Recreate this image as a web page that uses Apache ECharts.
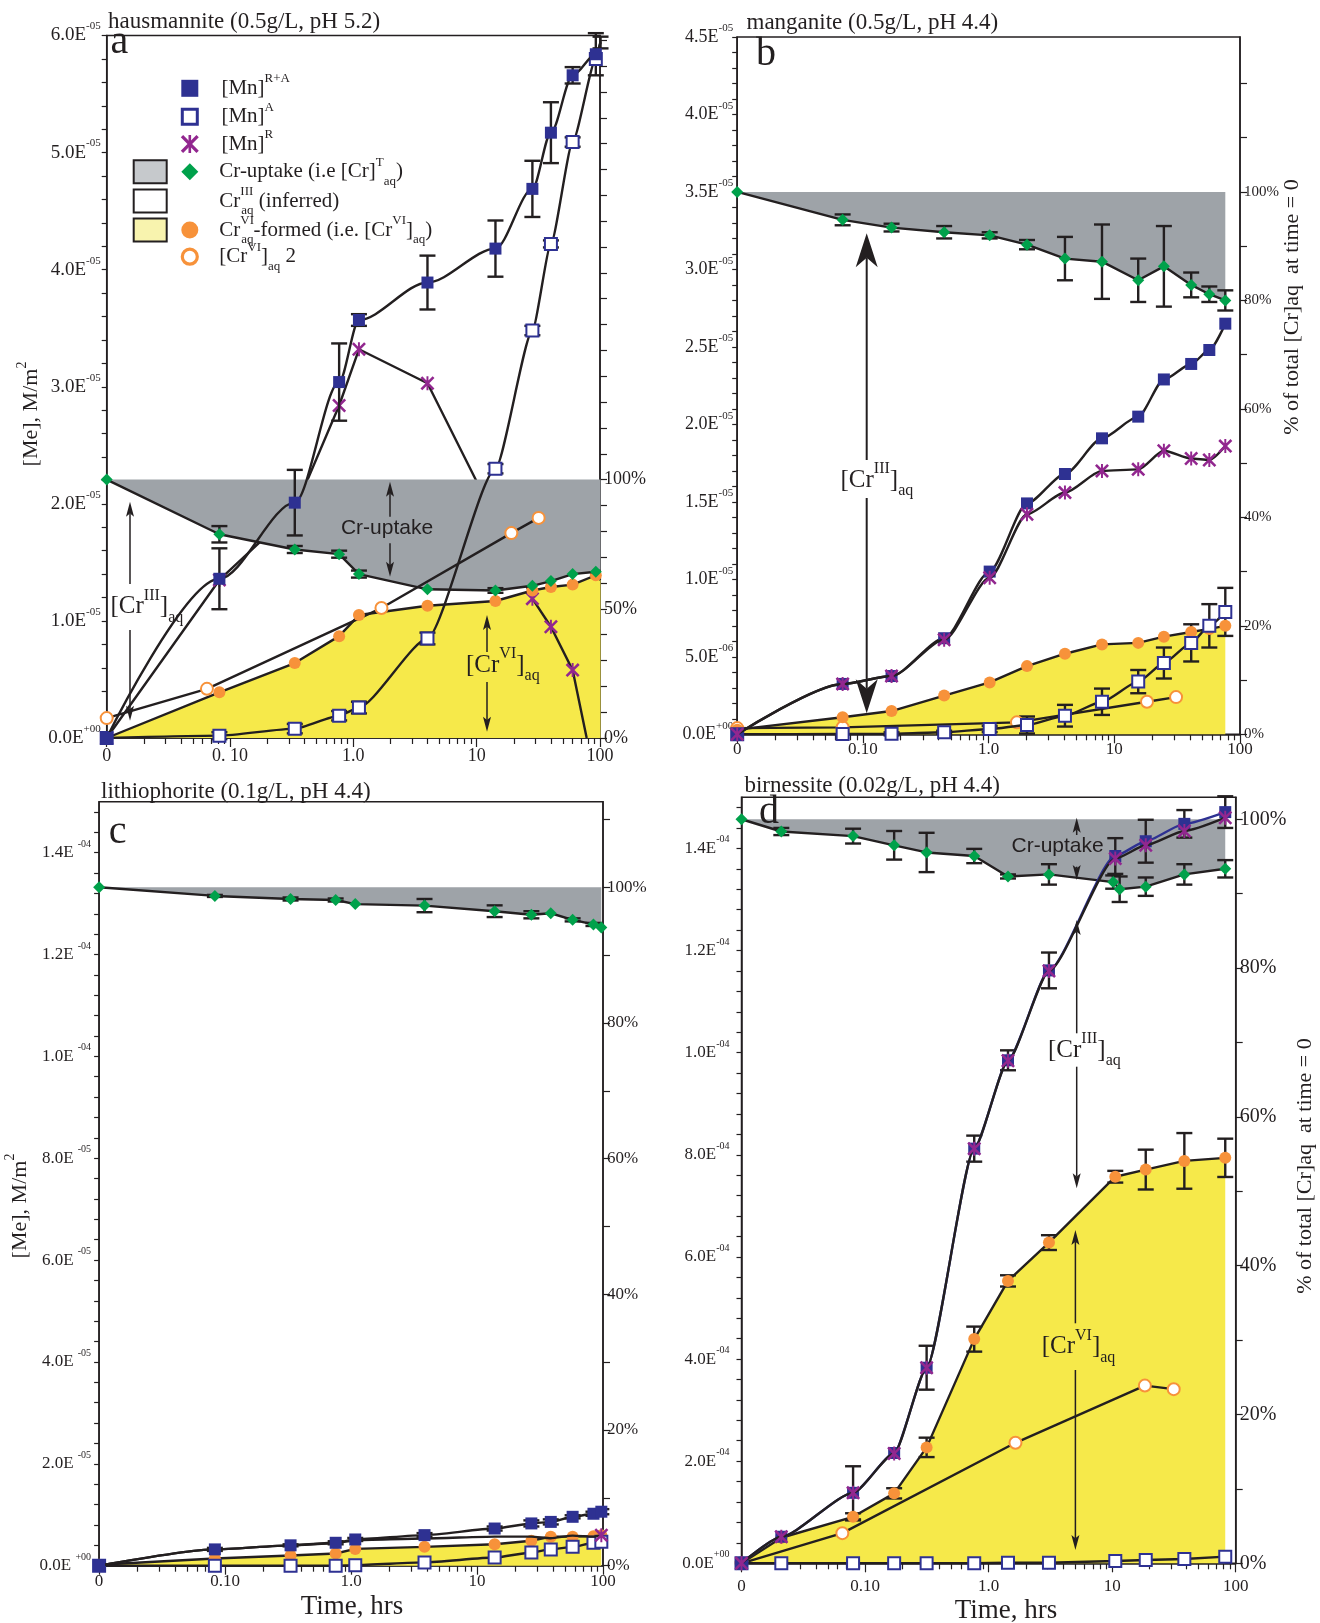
<!DOCTYPE html>
<html>
<head>
<meta charset="utf-8">
<title>Cr and Mn in solution during Cr(III) oxidation by Mn oxides</title>
<script src="https://cdn.jsdelivr.net/npm/echarts@6.0.0/dist/echarts.min.js"></script>
<style>
  html, body { margin: 0; padding: 0; background: #ffffff; }
  #chart { width: 1320px; height: 1623px; }
</style>
</head>
<body>
<div id="chart"></div>
<script>
// Concentrations in units of 1E-05 M/m2, time in hours.

// ---------- a: hausmannite (0.5 g/L, pH 5.2) ----------
const aTime     = [0, 0.082, 0.335, 0.767, 1.11, 3.99, 14.2, 28.3, 40, 60, 92.5, 101];
const aMnRA     = [0, 1.36, 2.01, 3.04, 3.57, 3.89, 4.18, 4.69, 5.17, 5.66, 5.84, 5.94];
const aMnRAErr  = [0, 0.26, 0.28, 0.33, 0.05, 0.23, 0.24, 0.24, 0.26, 0.07, 0.18, 0.05];
const aMnA      = [0, 0.02, 0.08, 0.19, 0.26, 0.85, 2.30, 3.48, 4.22, 5.09, 5.80, 5.95];
const aMnAErr   = [0, 0.03, 0.04, 0.04, 0.05, 0.05, 0.04, 0.04, 0.03, 0.04, 0, 0];
const aMnRTime  = [0, 0.082, 0.335, 0.767, 1.11, 3.99, 14.2, 28.3, 40, 60, 78];
const aMnR      = [0, 1.35, 1.95, 2.84, 3.32, 3.03, 1.87, 1.19, 0.95, 0.58, 0];
const aCrT      = [2.207, 1.74, 1.61, 1.57, 1.40, 1.27, 1.26, 1.30, 1.34, 1.40, 1.42, 1.43];
const aCrTErr   = [0, 0.07, 0.03, 0.03, 0.03, 0, 0.02, 0, 0, 0, 0, 0];
const aCr6      = [0, 0.39, 0.64, 0.87, 1.05, 1.13, 1.17, 1.26, 1.29, 1.31, 1.39, 1.35];
const aCr6bTime = [0, 0.065, 1.69, 19.1, 31.8];
const aCr6b     = [0.17, 0.42, 1.11, 1.75, 1.88];

// ---------- b: manganite (0.5 g/L, pH 4.4) ----------
const bTime     = [0, 0.069, 0.169, 0.443, 1.02, 2.02, 4.05, 7.98, 15.5, 24.8, 40.9, 57, 76.4];
const bCrT      = [3.50, 3.32, 3.27, 3.24, 3.22, 3.16, 3.07, 3.05, 2.93, 3.02, 2.90, 2.84, 2.80];
const bCrTErr   = [0, 0.035, 0.025, 0.04, 0.02, 0.03, 0.14, 0.24, 0.14, 0.26, 0.08, 0.05, 0.065];
const bMnRA     = [0, 0.325, 0.376, 0.62, 1.05, 1.49, 1.68, 1.91, 2.05, 2.29, 2.39, 2.48, 2.65];
const bMnR      = [0, 0.325, 0.376, 0.61, 1.01, 1.42, 1.56, 1.70, 1.71, 1.83, 1.78, 1.77, 1.86];
const bMnA      = [0, 0.002, 0.003, 0.013, 0.034, 0.06, 0.12, 0.21, 0.34, 0.46, 0.59, 0.70, 0.79];
const bMnAErr   = [0, 0, 0.01, 0.01, 0.02, 0.055, 0.07, 0.085, 0.075, 0.10, 0.12, 0.14, 0.155];
const bCr6      = [0.03, 0.11, 0.15, 0.25, 0.335, 0.44, 0.52, 0.58, 0.59, 0.63, 0.66, 0.68, 0.70];
const bCr6bTime = [0, 0.069, 1.68, 18.2, 31];
const bCr6b     = [0.04, 0.045, 0.077, 0.21, 0.24];

// ---------- c: lithiophorite (0.1 g/L, pH 4.4) ----------
const cTime     = [0, 0.083, 0.331, 0.755, 1.08, 3.83, 13.8, 27, 38.5, 57.4, 84, 97];
const cCrT      = [13.32, 13.15, 13.09, 13.07, 12.99, 12.96, 12.85, 12.78, 12.81, 12.68, 12.59, 12.53];
const cCrTErr   = [0, 0.02, 0.03, 0.03, 0, 0.13, 0.115, 0.07, 0, 0.03, 0.03, 0];
const cMnRA     = [0, 0.32, 0.40, 0.45, 0.515, 0.60, 0.73, 0.83, 0.86, 0.96, 1.02, 1.06];
const cMnRAErr  = [0, 0.03, 0.02, 0.03, 0.03, 0.04, 0.04, 0.06, 0.05, 0.03, 0.04, 0.05];
const cMnR      = [0, 0.32, 0.40, 0.44, 0.505, 0.535, 0.57, 0.57, 0.54, 0.59, 0.57, 0.60];
const cMnA      = [0, 0, 0, 0, 0.01, 0.065, 0.16, 0.26, 0.32, 0.37, 0.45, 0.47];
const cCr6      = [0.02, 0.14, 0.20, 0.24, 0.33, 0.37, 0.42, 0.49, 0.57, 0.57, 0.58, 0.60];

// ---------- d: birnessite (0.02 g/L, pH 4.4) ----------
const dTime     = [0, 0.021, 0.080, 0.172, 0.315, 0.765, 1.435, 3.08, 10.6, 18.7, 38.4, 82.3];
const dMnRA     = [0, 0.52, 1.38, 2.16, 3.83, 8.12, 9.85, 11.61, 13.85, 14.14, 14.48, 14.71];
const dMnRAErr  = [0, 0, 0.52, 0, 0.43, 0.255, 0.195, 0.35, 0.35, 0.42, 0.27, 0.31];
const dMnR      = [0, 0.52, 1.38, 2.15, 3.83, 8.12, 9.84, 11.60, 13.80, 14.06, 14.34, 14.60];
const dMnA      = [0, 0, 0, 0, 0, 0, 0.01, 0.01, 0.046, 0.065, 0.085, 0.13];
const dCr6      = [0, 0.50, 0.91, 1.37, 2.27, 4.39, 5.53, 6.28, 7.57, 7.71, 7.88, 7.94];
const dCr6Err   = [0, 0, 0.07, 0.10, 0.19, 0.245, 0.11, 0.145, 0.115, 0.39, 0.545, 0.375];
const dCrTTime  = [0, 0.021, 0.080, 0.172, 0.315, 0.765, 1.435, 3.08, 10.2, 11.5, 18.7, 38.4, 82.3];
const dCrT      = [14.57, 14.33, 14.24, 14.06, 13.92, 13.85, 13.45, 13.49, 13.34, 13.20, 13.25, 13.49, 13.60];
const dCrTErr   = [0, 0.07, 0.145, 0.28, 0.385, 0.14, 0.04, 0.2, 0.13, 0.25, 0.18, 0.2, 0.17];
const dCr6bTime = [0, 0.0655, 1.65, 18.4, 31.5];
const dCr6b     = [0, 0.59, 2.36, 3.48, 3.41];

// ---------- tick labels ----------
const xLabelsA = ['0', '0. 10', '1.0', '10', '100'];
const xLabels  = ['0', '0.10', '1.0', '10', '100'];
const aYTicks  = [0, 1, 2, 3, 4, 5, 6];
const aYLabels = [['0.0E', '+00'], ['1.0E', '-05'], ['2.0E', '-05'], ['3.0E', '-05'], ['4.0E', '-05'], ['5.0E', '-05'], ['6.0E', '-05']];
const bYTicks  = [0, 0.5, 1, 1.5, 2, 2.5, 3, 3.5, 4, 4.5];
const bYLabels = [['0.0E', '+00'], ['5.0E', '-06'], ['1.0E', '-05'], ['1.5E', '-05'], ['2.0E', '-05'], ['2.5E', '-05'], ['3.0E', '-05'], ['3.5E', '-05'], ['4.0E', '-05'], ['4.5E', '-05']];
const cYTicks  = [0, 2, 4, 6, 8, 10, 12, 14];
const cYLabels = [['0.0E ', '+00'], ['2.0E ', '-05'], ['4.0E ', '-05'], ['6.0E ', '-05'], ['8.0E ', '-05'], ['1.0E ', '-04'], ['1.2E ', '-04'], ['1.4E ', '-04']];
const dYTicks  = [0, 2, 4, 6, 8, 10, 12, 14];
const dYLabels = [['0.0E', '+00'], ['2.0E', '-04'], ['4.0E', '-04'], ['6.0E', '-04'], ['8.0E', '-04'], ['1.0E', '-04'], ['1.2E', '-04'], ['1.4E', '-04']];
const pctLabelsA = [0, 50, 100];
const pctLabels  = [0, 20, 40, 60, 80, 100];

// ---------- styling ----------
const SERIF = 'Liberation Serif';
const SANS = 'Liberation Sans';
const INK = '#231F20';
const NAVY = '#2E3192', PURPLE = '#92278F', GREEN = '#00A14B', ORANGE = '#F7923A';
const GRAY_FILL = '#9EA3A8', YELLOW_FILL = '#F6E94A';
const X_MARK = 'M0,1.3L1.3,0L5,3.7L8.7,0L10,1.3L6.3,5L10,8.7L8.7,10L5,6.3L1.3,10L0,8.7L3.7,5Z M4.3,0L5.7,0L5.7,10L4.3,10Z';
const X_OUTLINE = [[0, 1.3], [1.3, 0], [5, 3.7], [8.7, 0], [10, 1.3], [6.3, 5], [10, 8.7], [8.7, 10], [5, 6.3], [1.3, 10], [0, 8.7], [3.7, 5]];

// time axis: decades of hours, t = 0 drawn one decade left of 0.10 h
const lx = t => (t <= 0 ? -2 : Math.log10(t));

const MARK = {
  RA:   { symbol: 'rect', size: 12, color: NAVY, z: 8 },
  A:    { symbol: 'emptyRect', size: 12, color: NAVY, border: 2.2, z: 6 },
  R:    { symbol: 'path://' + X_MARK, size: 14, color: PURPLE, z: 7 },
  CrT:  { symbol: 'diamond', size: 12, color: GREEN, z: 6 },
  Cr6:  { symbol: 'circle', size: 12, color: ORANGE, z: 5 },
  Cr6b: { symbol: 'emptyCircle', size: 12, color: ORANGE, border: 2.4, z: 5 }
};

const PANELS = [
  { box: { left: 106.7, top: 35.5, width: 493.3, height: 702.5 },
    yMax: 6, yStep: 1, yTicks: aYTicks, yLabels: aYLabels, yFont: 19, yMargin: 6,
    xLabels: xLabelsA, xFont: 18, xMargin: 9,
    pctTop: 270, pctLabels: pctLabelsA, pctFont: 18,
    gray: { time: aTime, values: aCrT }, yellow: { time: aTime, values: aCr6 },
    lines: [
      { kind: 'Cr6b', time: aCr6bTime, values: aCr6b },
      { kind: 'Cr6', time: aTime, values: aCr6 },
      { kind: 'R', time: aMnRTime, values: aMnR, z: 2, hideLastMarker: true },
      { kind: 'CrT', time: aTime, values: aCrT, err: aCrTErr },
      { kind: 'A', time: aTime, values: aMnA, err: aMnAErr, smooth: 0.2 },
      { kind: 'RA', time: aTime, values: aMnRA, err: aMnRAErr, smooth: 0.3 }
    ] },
  { box: { left: 737.2, top: 37, width: 502.8, height: 697.3 },
    yMax: 4.5, yStep: 0.5, yTicks: bYTicks, yLabels: bYLabels, yFont: 18, yMargin: 4,
    xLabels: xLabels, xFont: 17, xMargin: 7,
    pctTop: 120, pctLabels: pctLabels, pctFont: 15,
    gray: { time: bTime, values: bCrT }, yellow: { time: bTime, values: bCr6 },
    lines: [
      { kind: 'Cr6b', time: bCr6bTime, values: bCr6b },
      { kind: 'Cr6', time: bTime, values: bCr6 },
      { kind: 'A', time: bTime, values: bMnA, err: bMnAErr, smooth: 0.2 },
      { kind: 'CrT', time: bTime, values: bCrT, err: bCrTErr },
      { kind: 'RA', time: bTime, values: bMnRA, smooth: 0.25 },
      { kind: 'R', time: bTime, values: bMnR, smooth: 0.25, z: 9 }
    ] },
  { box: { left: 99.1, top: 801.7, width: 503.9, height: 764 },
    yMax: 15, yStep: 2, yTicks: cYTicks, yLabels: cYLabels, yFont: 17, yMargin: 8,
    xLabels: xLabels, xFont: 17, xMargin: 7,
    pctTop: 110, pctLabels: pctLabels, pctFont: 17,
    gray: { time: cTime, values: cCrT }, yellow: { time: cTime, values: cCr6 },
    lines: [
      { kind: 'Cr6', time: cTime, values: cCr6 },
      { kind: 'A', time: cTime, values: cMnA, smooth: 0.2 },
      { kind: 'R', time: cTime, values: cMnR, lastMarkerOnly: true, smooth: 0.2 },
      { kind: 'CrT', time: cTime, values: cCrT, err: cCrTErr },
      { kind: 'RA', time: cTime, values: cMnRA, err: cMnRAErr, smooth: 0.2 }
    ] },
  { box: { left: 741.5, top: 797.3, width: 494.2, height: 766 },
    yMax: 15, yStep: 2, yTicks: dYTicks, yLabels: dYLabels, yFont: 17, yMargin: 12,
    xLabels: xLabels, xFont: 17, xMargin: 15,
    pctTop: 100, pctLabels: pctLabels, pctFont: 20,
    gray: { time: dCrTTime, values: dCrT }, yellow: { time: dTime, values: dCr6 },
    lines: [
      { kind: 'Cr6b', time: dCr6bTime, values: dCr6b },
      { kind: 'Cr6', time: dTime, values: dCr6, err: dCr6Err },
      { kind: 'A', time: dTime, values: dMnA },
      { kind: 'CrT', time: dCrTTime, values: dCrT, err: dCrTErr },
      { kind: 'RA', time: dTime, values: dMnRA, err: dMnRAErr, lineColor: NAVY, smooth: 0.2 },
      { kind: 'R', time: dTime, values: dMnR, smooth: 0.2, z: 9 }
    ] }
];

const minorLog = [];
for (let d = -2; d <= 1; d++) for (let k = 2; k <= 9; k++) minorLog.push(d + Math.log10(k));

function polySeries(xi, yi, pts, fill, z) {
  return {
    type: 'custom', xAxisIndex: xi, yAxisIndex: yi, z, silent: true, animation: false,
    data: [[pts[0][0], pts[0][1]]],
    renderItem: (params, api) => ({
      type: 'polygon',
      shape: { points: pts.map(p => api.coord(p)) },
      style: { fill: fill }
    })
  };
}

function errSeries(xi, yi, L) {
  const data = [];
  L.time.forEach((t, k) => { if (L.err[k] > 0) data.push([lx(t), L.values[k], L.err[k]]); });
  return {
    type: 'custom', xAxisIndex: xi, yAxisIndex: yi, z: 4, silent: true, animation: false,
    data, encode: { x: 0, y: 1 },
    renderItem: (params, api) => {
      const x = api.value(0), y = api.value(1), e = api.value(2);
      const lo = api.coord([x, y - e]), hi = api.coord([x, y + e]);
      const w = 8, st = { stroke: INK, lineWidth: 2.4 };
      return { type: 'group', children: [
        { type: 'line', shape: { x1: lo[0], y1: lo[1], x2: hi[0], y2: hi[1] }, style: st },
        { type: 'line', shape: { x1: lo[0] - w, y1: lo[1], x2: lo[0] + w, y2: lo[1] }, style: st },
        { type: 'line', shape: { x1: hi[0] - w, y1: hi[1], x2: hi[0] + w, y2: hi[1] }, style: st }
      ] };
    }
  };
}

function lineSeries(xi, yi, L) {
  const M = MARK[L.kind];
  const n = L.time.length;
  const data = L.time.map((t, k) => {
    const item = { value: [lx(t), L.values[k]] };
    if ((L.hideLastMarker && k === n - 1) || (L.lastMarkerOnly && k !== n - 1)) item.symbol = 'none';
    return item;
  });
  return {
    type: 'line', xAxisIndex: xi, yAxisIndex: yi, z: L.z || M.z, data,
    symbol: M.symbol, symbolSize: M.size, showSymbol: true,
    smooth: L.smooth || false, smoothMonotone: 'x', animation: false, silent: true,
    lineStyle: { color: L.lineColor || INK, width: 2.4 },
    itemStyle: { color: M.color, borderColor: M.color, borderWidth: M.border || 0 }
  };
}

const grids = [], xAxes = [], yAxes = [], series = [];
const tickLine = { color: INK, width: 1.2 };

PANELS.forEach((P, i) => {
  const xi = 2 * i, yi = 2 * i;
  const cr0 = P.gray.values[0];
  grids.push({ left: P.box.left, top: P.box.top, width: P.box.width, height: P.box.height,
    show: true, borderColor: INK, borderWidth: 1.5, backgroundColor: 'transparent' });

  xAxes.push({
    type: 'value', gridIndex: i, position: 'bottom', min: -2, max: 2, interval: 1,
    axisLine: { show: true, onZero: false, lineStyle: { color: INK, width: 1.5 } },
    axisTick: { show: true, inside: false, length: 9, lineStyle: tickLine },
    axisLabel: { formatter: v => P.xLabels[Math.round(v) + 2], fontFamily: SERIF, fontSize: P.xFont, color: INK, margin: P.xMargin },
    splitLine: { show: false }
  });
  xAxes.push({
    type: 'value', gridIndex: i, position: 'bottom', min: -2, max: 2,
    axisLine: { show: false, onZero: false }, axisLabel: { show: false }, splitLine: { show: false },
    axisTick: { show: true, inside: false, length: 6, customValues: minorLog, lineStyle: tickLine }
  });

  const minorY = [];
  const step = P.yStep / 5;
  for (let k = 0; k * step <= P.yMax + 1e-9; k++) minorY.push(+(k * step).toFixed(6));
  const fs = P.yFont, sfs = Math.round(fs * 0.6);
  yAxes.push({
    type: 'value', gridIndex: i, position: 'left', min: 0, max: P.yMax,
    axisLine: { show: true, onZero: false, lineStyle: { color: INK, width: 1.5 } },
    axisTick: { show: true, inside: false, length: 5, customValues: minorY, lineStyle: tickLine },
    axisLabel: {
      customValues: P.yTicks, margin: P.yMargin,
      formatter: v => {
        const k = P.yTicks.findIndex(t => Math.abs(t - v) < 1e-6);
        return k < 0 ? '' : '{m|' + P.yLabels[k][0] + '}{s|' + P.yLabels[k][1] + '}';
      },
      rich: {
        m: { fontFamily: SERIF, fontSize: fs, color: INK, lineHeight: fs + 10 },
        s: { fontFamily: SERIF, fontSize: sfs, color: INK, lineHeight: sfs + 1, verticalAlign: 'top' }
      }
    },
    splitLine: { show: false }
  });
  const pctTicks = [];
  for (let p = 0; p <= P.pctTop; p += 10) pctTicks.push(p);
  yAxes.push({
    type: 'value', gridIndex: i, position: 'right', min: 0, max: P.yMax / cr0 * 100,
    axisLine: { show: true, onZero: false, lineStyle: { color: INK, width: 1.5 } },
    axisTick: { show: true, inside: false, length: 7, customValues: pctTicks, lineStyle: tickLine },
    axisLabel: { customValues: P.pctLabels, formatter: v => Math.round(v) + '%', fontFamily: SERIF, fontSize: P.pctFont, color: INK, margin: 4 },
    splitLine: { show: false }
  });

  // Cr taken up: between the initial total Cr level and the measured total Cr
  const g = P.gray.time.map((t, k) => [lx(t), P.gray.values[k]]);
  series.push(polySeries(xi, yi, g.concat([[g[g.length - 1][0], cr0], [g[0][0], cr0]]), GRAY_FILL, 3));
  // Cr(VI) formed: under the Cr(VI) curve
  const y6 = P.yellow.time.map((t, k) => [lx(t), P.yellow.values[k]]);
  series.push(polySeries(xi, yi, [[y6[0][0], 0]].concat(y6, [[y6[y6.length - 1][0], 0]]), YELLOW_FILL, 1));

  P.lines.forEach(L => {
    series.push(lineSeries(xi, yi, L));
    if (L.err) series.push(errSeries(xi, yi, L));
  });
});

// ---------- text, arrows and legend ----------
const G = [];
function rich(fs, ff) {
  const sfs = Math.round(fs * 0.62);
  const b = { fontFamily: ff || SERIF, fill: INK };
  return {
    m: Object.assign({}, b, { fontSize: fs, lineHeight: Math.round(fs * 1.5) }),
    s: Object.assign({}, b, { fontSize: sfs, lineHeight: sfs + 2, verticalAlign: 'top' }),
    b: Object.assign({}, b, { fontSize: sfs, lineHeight: sfs + 2, verticalAlign: 'bottom' }),
    s0: Object.assign({}, b, { fontSize: sfs, lineHeight: sfs + 2, verticalAlign: 'top', width: 1 })
  };
}
function text(x, y, str, o) {
  o = o || {};
  const fs = o.fs || 20, ff = o.ff || SERIF;
  G.push({
    type: 'text', x, y, rotation: o.rot || 0, z: 50, silent: true,
    style: {
      text: str, fill: INK, fontFamily: ff, fontSize: fs, font: fs + 'px "' + ff + '"',
      rich: o.rich ? rich(fs, ff) : undefined,
      align: o.align || 'left', textAlign: o.align || 'left',
      verticalAlign: 'middle', textVerticalAlign: 'middle'
    }
  });
}
function seg(x, y1, y2, lw) {
  G.push({ type: 'line', z: 50, silent: true, shape: { x1: x, y1: y1, x2: x, y2: y2 }, style: { stroke: INK, lineWidth: lw || 1.5 } });
}
function head(x, tip, up, w, len, notch) {
  const s = up ? 1 : -1;
  const base = tip + s * len, mid = tip + s * len * notch;
  G.push({ type: 'polygon', z: 51, silent: true,
    shape: { points: [[x, tip], [x + w / 2, base], [x, mid], [x - w / 2, base]] }, style: { fill: INK } });
}
function arrowPair(x, topTip, gapTop, gapBot, botTip, big) {
  const w = big ? 22 : 8, len = big ? 34 : 15, n = big ? 0.72 : 0.78;
  head(x, topTip, true, w, len, n);
  seg(x, topTip + len * n, gapTop, big ? 2 : 1.5);
  seg(x, gapBot, botTip - len * n, big ? 2 : 1.5);
  head(x, botTip, false, w, len, n);
}

// titles and panel letters
text(108, 22, 'hausmannite (0.5g/L, pH 5.2)', { fs: 23 });
text(746.5, 23, 'manganite (0.5g/L, pH 4.4)', { fs: 23 });
text(101, 791.5, 'lithiophorite (0.1g/L, pH 4.4)', { fs: 23 });
text(744.4, 786, 'birnessite (0.02g/L, pH 4.4)', { fs: 23 });
text(110.5, 42, 'a', { fs: 40 });
text(756, 54, 'b', { fs: 40 });
text(108.8, 832, 'c', { fs: 40 });
text(759, 812, 'd', { fs: 40 });

// axis names
text(31.6, 414, '{m|[Me], M/m}{s|2}', { fs: 22, rich: true, rot: Math.PI / 2, align: 'center' });
text(20, 1206, '{m|[Me], M/m}{s|2}', { fs: 22, rich: true, rot: Math.PI / 2, align: 'center' });
text(1292, 307, '% of total [Cr]aq  at time = 0', { fs: 22, rot: Math.PI / 2, align: 'center' });
text(1305, 1166, '% of total [Cr]aq  at time = 0', { fs: 22, rot: Math.PI / 2, align: 'center' });
text(352, 1607, 'Time, hrs', { fs: 27, align: 'center' });
text(1006, 1611, 'Time, hrs', { fs: 27, align: 'center' });

// panel a annotations
text(387, 528.3, 'Cr-uptake', { fs: 21, ff: SANS, align: 'center' });
arrowPair(390, 481.7, 516.7, 543.3, 576.7, false);
text(110.5, 606.7, '{m|[Cr}{s|III}{m|]}{b|aq}', { fs: 25, rich: true });
arrowPair(130, 501.7, 584, 630, 720.7, false);
text(466, 665, '{m|[Cr}{s|VI}{m|]}{b|aq}', { fs: 25, rich: true });
arrowPair(487, 615, 652, 682, 731.7, false);

// panel b annotation
text(840.5, 480, '{m|[Cr}{s|III}{m|]}{b|aq}', { fs: 25, rich: true });
arrowPair(866.7, 233.3, 460, 498, 713.3, true);

// panel d annotations
text(1057.6, 846, 'Cr-uptake', { fs: 21, ff: SANS, align: 'center' });
arrowPair(1076.7, 817.7, 835, 866.7, 880, false);
text(1048, 1050, '{m|[Cr}{s|III}{m|]}{b|aq}', { fs: 25, rich: true });
arrowPair(1076.7, 920, 1033.3, 1066.7, 1188.3, false);
text(1041.7, 1346.7, '{m|[Cr}{s|VI}{m|]}{b|aq}', { fs: 25, rich: true });
arrowPair(1075.4, 1230, 1323.3, 1370, 1550, false);

// legend (panel a)
const LX = 189.8;
function legBox(y, fill) {
  G.push({ type: 'rect', z: 50, silent: true, shape: { x: 133.7, y: y - 11.5, width: 33, height: 23 }, style: { fill, stroke: INK, lineWidth: 2 } });
}
G.push({ type: 'rect', z: 51, silent: true, shape: { x: LX - 8.5, y: 88.3 - 8.5, width: 17, height: 17 }, style: { fill: NAVY } });
G.push({ type: 'rect', z: 51, silent: true, shape: { x: LX - 7.5, y: 116.7 - 7.5, width: 15, height: 15 }, style: { fill: '#fff', stroke: NAVY, lineWidth: 3 } });
G.push({ type: 'polygon', z: 51, silent: true, shape: { points: X_OUTLINE.map(p => [LX - 9 + p[0] * 1.8, 144 - 9 + p[1] * 1.8]) }, style: { fill: PURPLE } });
G.push({ type: 'rect', z: 51, silent: true, shape: { x: LX - 1.3, y: 144 - 9, width: 2.6, height: 18 }, style: { fill: PURPLE } });
legBox(171.7, '#C6C9CC');
G.push({ type: 'polygon', z: 51, silent: true, shape: { points: [[LX, 171.7 - 8.5], [LX + 8.5, 171.7], [LX, 171.7 + 8.5], [LX - 8.5, 171.7]] }, style: { fill: GREEN } });
legBox(201, '#FFFFFF');
legBox(230, '#F8F3AE');
G.push({ type: 'circle', z: 51, silent: true, shape: { cx: LX, cy: 230, r: 8.5 }, style: { fill: ORANGE } });
G.push({ type: 'circle', z: 51, silent: true, shape: { cx: LX, cy: 256.7, r: 7.5 }, style: { fill: '#fff', stroke: ORANGE, lineWidth: 3.2 } });

text(221.4, 88.3, '{m|[Mn]}{s|R+A}', { fs: 21, rich: true });
text(221.4, 116.7, '{m|[Mn]}{s|A}', { fs: 21, rich: true });
text(221.4, 144, '{m|[Mn]}{s|R}', { fs: 21, rich: true });
text(219.3, 171.7, '{m|Cr-uptake (i.e [Cr]}{s|T}{b|aq}{m|)}', { fs: 21, rich: true });
text(219.3, 201, '{m|Cr}{s0|III}{b|aq}{m| (inferred)}', { fs: 21, rich: true });
text(219.3, 230, '{m|Cr}{s0|VI}{b|aq}{m|-formed (i.e. [Cr}{s|VI}{m|]}{b|aq}{m|)}', { fs: 21, rich: true });
text(219.3, 256.7, '{m|[Cr}{s|VI}{m|]}{b|aq}{m| 2}', { fs: 21, rich: true });

const chart = echarts.init(document.getElementById('chart'), null, { renderer: 'canvas', width: 1320, height: 1623 });
chart.setOption({
  animation: false,
  backgroundColor: '#ffffff',
  grid: grids,
  xAxis: xAxes,
  yAxis: yAxes,
  series: series,
  graphic: { elements: G }
});
</script>
</body>
</html>
